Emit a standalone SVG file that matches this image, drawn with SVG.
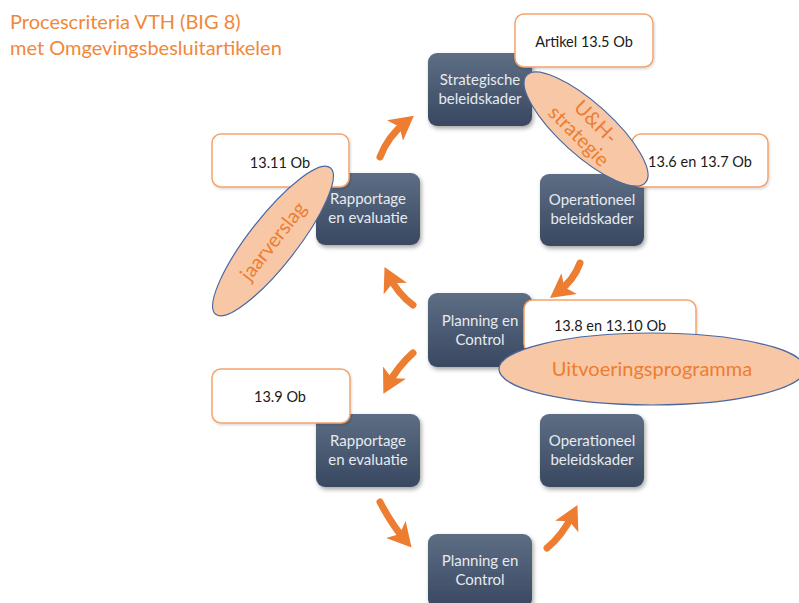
<svg xmlns="http://www.w3.org/2000/svg" width="799" height="603" viewBox="0 0 799 603">
<defs>
<linearGradient id="dk" x1="0" y1="0" x2="0" y2="1">
<stop offset="0" stop-color="#5d6d84"/>
<stop offset="1" stop-color="#394861"/>
</linearGradient>
<filter id="sh" x="-20%" y="-20%" width="150%" height="150%">
<feDropShadow dx="1.5" dy="2.5" stdDeviation="2" flood-color="#000" flood-opacity="0.35"/>
</filter>
<filter id="sh2" x="-20%" y="-20%" width="150%" height="150%">
<feDropShadow dx="1" dy="1.5" stdDeviation="1.2" flood-color="#000" flood-opacity="0.15"/>
</filter>
<marker id="ah" markerUnits="userSpaceOnUse" viewBox="0 0 24 26" markerWidth="24" markerHeight="26" refX="14" refY="13" orient="auto">
<path d="M0,0 L24,13 L0,26 L6,13 Z" fill="#ed7d31"/>
</marker>
<style>
.dark{fill:url(#dk);filter:url(#sh)}
.dt{font-family:Lato,"Open Sans","Liberation Sans",sans-serif;font-size:15px;fill:#e6eaef;text-anchor:middle}
.lab{fill:#fff;stroke:#f4a46e;stroke-width:1.5;filter:url(#sh2)}
.lt{font-family:Lato,"Open Sans","Liberation Sans",sans-serif;font-size:14.5px;fill:#1a1a1a;text-anchor:middle}
.ell{fill:#f8c8a6;stroke:#4a68a0;stroke-width:1.2}
.et{font-family:Lato,"Open Sans","Liberation Sans",sans-serif;font-size:20px;fill:#ed7d31;text-anchor:middle}
.arr{fill:none;stroke:#ed7d31;stroke-width:7;stroke-linecap:round;marker-end:url(#ah)}
.title{font-family:Lato,"Open Sans","Liberation Sans",sans-serif;font-size:20px;fill:#f0883a}
</style>
</defs>
<rect width="799" height="603" fill="#fff"/>
<g id="title">
<text class="title" x="10" y="29">Procescriteria VTH (BIG 8)</text>
<text class="title" x="10" y="55">met Omgevingsbesluitartikelen</text>
</g>
<g id="connectors">
<path class="arr" d="M380,157 Q388,136 406,122"/>
<path class="arr" d="M580,263 Q574,280 558,292"/>
<path class="arr" d="M413,305 Q398,294 389,276"/>
<path class="arr" d="M413,353 Q398,366 388,385"/>
<path class="arr" d="M380,502 Q392,525 405,540"/>
<path class="arr" d="M547,548 Q562,536 573,514"/>
</g>
<g id="strategische">
<rect class="dark" x="428" y="53" width="104" height="73" rx="9"/>
<text class="dt" x="480" y="85">Strategische</text>
<text class="dt" x="480" y="104">beleidskader</text>
</g>
<g id="operationeel1">
<rect class="dark" x="540" y="174" width="104" height="72" rx="9"/>
<text class="dt" x="592" y="205">Operationeel</text>
<text class="dt" x="592" y="224">beleidskader</text>
</g>
<g id="rapportage1">
<rect class="dark" x="316" y="173" width="104" height="72" rx="9"/>
<text class="dt" x="368" y="204">Rapportage</text>
<text class="dt" x="368" y="223">en evaluatie</text>
</g>
<g id="planning1">
<rect class="dark" x="428" y="293" width="104" height="74" rx="9"/>
<text class="dt" x="480" y="326">Planning en</text>
<text class="dt" x="480" y="345">Control</text>
</g>
<g id="rapportage2">
<rect class="dark" x="316" y="414" width="104" height="73" rx="9"/>
<text class="dt" x="368" y="446">Rapportage</text>
<text class="dt" x="368" y="465">en evaluatie</text>
</g>
<g id="operationeel2">
<rect class="dark" x="540" y="414" width="104" height="73" rx="9"/>
<text class="dt" x="592" y="446">Operationeel</text>
<text class="dt" x="592" y="465">beleidskader</text>
</g>
<g id="planning2">
<rect class="dark" x="428" y="534" width="104" height="74" rx="9"/>
<text class="dt" x="480" y="566">Planning en</text>
<text class="dt" x="480" y="585">Control</text>
</g>
<g id="art135">
<rect class="lab" x="515" y="14" width="138" height="53" rx="9"/>
<text class="lt" x="584" y="47">Artikel 13.5 Ob</text>
</g>
<g id="art136">
<rect class="lab" x="632" y="134" width="136" height="53" rx="9"/>
<text class="lt" x="700" y="167">13.6 en 13.7 Ob</text>
</g>
<g id="art1311">
<rect class="lab" x="212" y="134" width="137" height="53" rx="9"/>
<text class="lt" x="280" y="168">13.11 Ob</text>
</g>
<g id="art138">
<rect class="lab" x="524" y="300" width="172" height="53" rx="9"/>
<text class="lt" x="610" y="331">13.8 en 13.10 Ob</text>
</g>
<g id="art139">
<rect class="lab" x="212" y="369" width="138" height="54" rx="9"/>
<text class="lt" x="280" y="402">13.9 Ob</text>
</g>
<g id="uh-strategie">
<ellipse class="ell" cx="586" cy="129" rx="80" ry="26" transform="rotate(42 586 129)"/>
<g transform="rotate(45 586 129)">
<text class="et" x="588" y="124">U&amp;H-</text>
<text class="et" x="586" y="146">strategie</text>
</g>
</g>
<g id="jaarverslag">
<ellipse class="ell" cx="273" cy="241" rx="93" ry="24" transform="rotate(-52 273 241)"/>
<text class="et" x="273" y="248" transform="rotate(-52 273 241)">jaarverslag</text>
</g>
<g id="uitvoeringsprogramma">
<ellipse class="ell" cx="652" cy="369" rx="153" ry="36"/>
<text class="et" x="652" y="376">Uitvoeringsprogramma</text>
</g>
</svg>
